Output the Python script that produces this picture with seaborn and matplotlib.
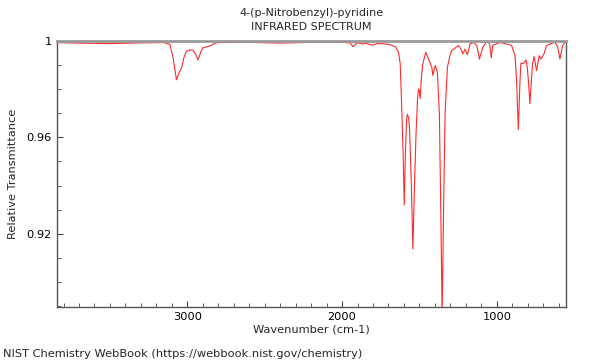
import numpy as np
import pandas as pd
import seaborn as sns
import matplotlib
matplotlib.use("Agg")
import matplotlib.pyplot as plt
from matplotlib.ticker import MultipleLocator, FuncFormatter

title = "4-(p-Nitrobenzyl)-pyridine\nINFRARED SPECTRUM"
footer = "NIST Chemistry WebBook (https://webbook.nist.gov/chemistry)"

# values
wavenumber = [3844, 3700, 3500, 3300, 3150, 3113, 3092, 3070, 3052, 3038, 3022, 3006,
              2982, 2964, 2947, 2930, 2912, 2900, 2855, 2812, 2600, 2400, 2200, 2000,
              1949, 1929, 1909, 1897, 1864, 1846, 1824, 1800, 1774, 1734, 1690, 1652,
              1635, 1624, 1613, 1604, 1598, 1590, 1582, 1577, 1570, 1564, 1552, 1542,
              1532, 1521, 1512, 1506, 1500, 1495, 1487, 1478, 1459, 1442, 1432, 1420,
              1413, 1405, 1397, 1384, 1371, 1362, 1353, 1344, 1334, 1319, 1302, 1291,
              1248, 1232, 1220, 1205, 1190, 1173, 1151, 1129, 1112, 1091, 1067, 1047,
              1035, 1027, 979, 936, 904, 882, 872, 861, 850, 844, 829, 811, 803, 794,
              786, 778, 769, 759, 743, 726, 715, 695, 678, 646, 624, 607, 592, 575, 556]
transmittance = [0.9992, 0.9990, 0.9988, 0.9991, 0.9992, 0.9985, 0.9930, 0.9838, 0.9870,
                 0.9885, 0.9930, 0.9956, 0.9962, 0.9960, 0.9945, 0.9920, 0.9955, 0.9970,
                 0.9978, 0.9992, 0.9993, 0.9990, 0.9993, 0.9993, 0.9991, 0.9975, 0.9988,
                 0.9991, 0.9986, 0.9990, 0.9985, 0.9981, 0.9988, 0.9987, 0.9984, 0.9973,
                 0.9952, 0.9904, 0.9700, 0.9500, 0.9320, 0.9550, 0.9680, 0.9695, 0.9680,
                 0.9643, 0.9400, 0.9138, 0.9400, 0.9630, 0.9760, 0.9800, 0.9790, 0.9760,
                 0.9850, 0.9904, 0.9952, 0.9925, 0.9910, 0.9890, 0.9856, 0.9880, 0.9897,
                 0.9870, 0.9700, 0.9300, 0.8860, 0.9300, 0.9700, 0.9890, 0.9940, 0.9959,
                 0.9980, 0.9965, 0.9945, 0.9965, 0.9942, 0.9986, 0.9993, 0.9980, 0.9924,
                 0.9972, 0.9995, 0.9990, 0.9929, 0.9980, 0.9993, 0.9986, 0.9980, 0.9938,
                 0.9835, 0.9632, 0.9835, 0.9907, 0.9905, 0.9920, 0.9890, 0.9820, 0.9739,
                 0.9820, 0.9904, 0.9934, 0.9876, 0.9938, 0.9924, 0.9945, 0.9980, 0.9989,
                 0.9993, 0.9975, 0.9924, 0.9980, 0.9995]

df = pd.DataFrame({"wn": wavenumber, "T": transmittance})

sns.set_style("white")
fig = plt.figure(figsize=(6, 3.6), dpi=100)
ax = fig.add_axes([0.0945, 0.148, 0.8485, 0.739])

sns.lineplot(data=df, x="wn", y="T", sort=False, color="#ff2a2a", lw=0.8, ax=ax)

ax.set_xlim(3844, 554)
ax.set_ylim(0.8899, 1.0)
ax.xaxis.set_major_locator(MultipleLocator(1000))
ax.xaxis.set_minor_locator(MultipleLocator(100))
ax.yaxis.set_major_locator(MultipleLocator(0.04))
ax.yaxis.set_minor_locator(MultipleLocator(0.01))
ax.yaxis.set_major_formatter(FuncFormatter(lambda v, p: "%g" % round(v, 2)))
ax.tick_params(which="both", direction="in", labelsize=8.2, colors="#444444",
               labelcolor="black", top=False, right=False, left=True, bottom=True)
ax.tick_params(which="major", length=4)
ax.tick_params(which="minor", length=3)

for side in ["left", "bottom", "right"]:
    ax.spines[side].set_color("#555555")
    ax.spines[side].set_linewidth(1)
ax.spines["top"].set_color("#999999")
ax.spines["top"].set_linewidth(2)

ax.set_xlabel("Wavenumber (cm-1)", fontsize=8.2, labelpad=2)
ax.set_ylabel("Relative Transmittance", fontsize=8.2, labelpad=6)
ax.set_title(title, fontsize=8, linespacing=1.45, pad=8)
fig.text(0.005, 0.008, footer, fontsize=8.2)

fig.savefig("out.png", dpi=100)
